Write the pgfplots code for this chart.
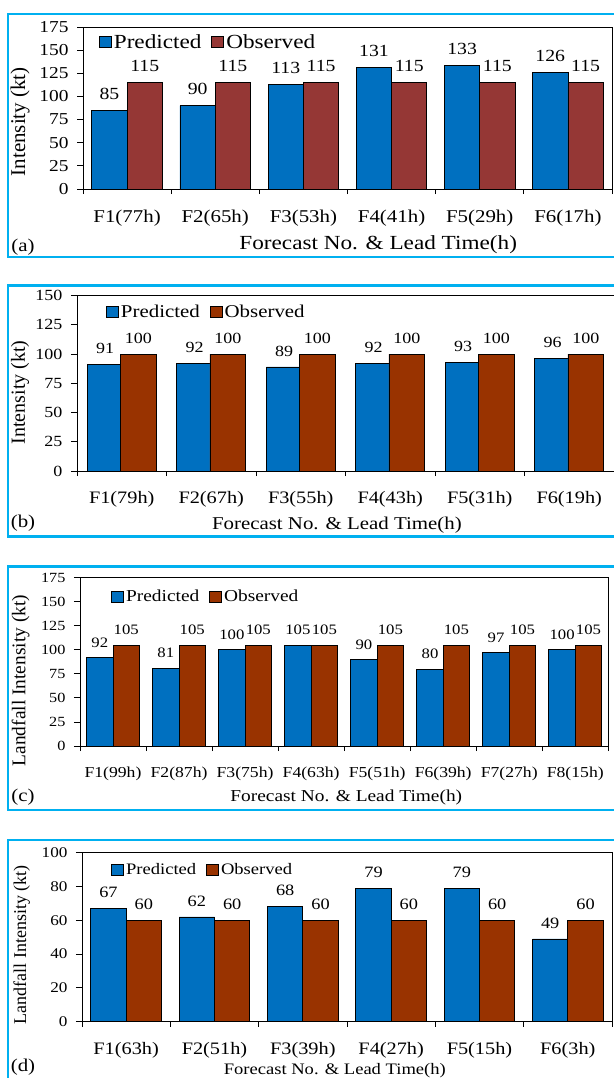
\documentclass[border=0pt]{standalone}
\usepackage{fontspec}
\setmainfont{Liberation Serif}[FakeStretch=1.16]
\newfontfamily\ylf{Liberation Serif}
\usepackage{pgfplots}
\pgfplotsset{compat=1.18}
\definecolor{pblue}{RGB}{0,112,192}
\definecolor{ored}{RGB}{149,55,53}
\definecolor{obrown}{RGB}{153,51,0}
\definecolor{frameblue}{RGB}{0,176,240}
\newcommand\fs[1]{\fontsize{#1}{#1}\selectfont}
\pgfplotsset{
  /pgf/number format/assume math mode=true,
  sqlegend/.style={legend image code/.code={\draw[##1,draw=black,line width=0.8pt] (0pt,-5.5pt) rectangle (12pt,5.5pt);}},
  panel/.style={
    scale only axis,
    anchor=south west,
    axis line style={black, line width=0.9pt},
    ymin=0, xmin=-0.5,
    tick align=outside,
    tick pos=left,
    major tick length=6pt,
    minor tick length=5pt,
    tick style={black, line width=0.9pt},
    major x tick style={draw=none},
    legend columns=2,
    legend style={draw=none, fill=none, inner sep=0pt, anchor=west,
      nodes={inner xsep=2pt},
      /tikz/every even column/.append style={column sep=8pt}},
    yticklabel style={xshift=-5pt},
    xticklabel style={yshift=-11pt},
  },
  pred/.style={ybar, bar width=0.4, bar shift=0, fill=pblue, draw=black, line width=0.8pt, sqlegend,
    nodes near coords, every node near coord/.append style={text=black, font=\fs{#1}}},
  obs/.style 2 args={ybar, bar width=0.4, bar shift=0, fill=#1, draw=black, line width=0.8pt, sqlegend,
    nodes near coords, every node near coord/.append style={text=black, font=\fs{#2}}},
}
\begin{document}
\begin{tikzpicture}
% frames
\draw[frameblue, line width=2.5pt] (8pt,-14pt) rectangle (625pt,-257pt);
\draw[frameblue, line width=2.5pt] (8pt,-285.7pt) rectangle (625pt,-536.7pt);
\draw[frameblue, line width=2.5pt] (8pt,-566.7pt) rectangle (625pt,-810pt);
\draw[frameblue, line width=2.5pt] (8pt,-840pt) rectangle (625pt,-1090pt);

% (a)
\begin{axis}[panel,
  at={(83pt,-189pt)}, width=529pt, height=162pt,
  xmax=5.5, ymax=175, ytick={0,25,...,175},
  xtick={0,...,5}, minor xtick={-0.5,0.5,...,5.5},
  xticklabels={F1(77h),F2(65h),F3(53h),F4(41h),F5(29h),F6(17h)},
  xticklabel style={font=\fs{18}}, yticklabel style={font=\fs{16.7}},
  xlabel={Forecast No. \& Lead Time(h)}, ylabel={Intensity (kt)},
  xlabel style={at={(axis description cs:0.558,-0.3457)}, anchor=center, font=\fs{20}},
  ylabel style={at={(axis description cs:-0.1191,0.415)}, anchor=center, font=\ylf\fs{21}},
  legend style={at={(0.030,0.907)}, font=\fs{20}},
  every node near coord/.append style={yshift=7pt},
]
\addplot[pred=17] coordinates {(-0.2,85) (0.8,90) (1.8,113) (2.8,131) (3.8,133) (4.8,126)};
\addplot[obs={ored}{17}] coordinates {(0.2,115) (1.2,115) (2.2,115) (3.2,115) (4.2,115) (5.2,115)};
\legend{Predicted,Observed}
\end{axis}

% (b)
\begin{axis}[panel,
  at={(77pt,-471pt)}, width=537pt, height=175.3pt,
  xmax=5.5, ymax=150, ytick={0,25,...,150},
  xtick={0,...,5}, minor xtick={-0.5,0.5,...,5.5},
  xticklabels={F1(79h),F2(67h),F3(55h),F4(43h),F5(31h),F6(19h)},
  xticklabel style={font=\fs{17.5}}, yticklabel style={font=\fs{15.5}},
  xlabel={Forecast No. \& Lead Time(h)}, ylabel={Intensity (kt)},
  xlabel style={at={(axis description cs:0.484,-0.308)}, anchor=center, font=\fs{18}},
  ylabel style={at={(axis description cs:-0.1061,0.448)}, anchor=center, font=\ylf\fs{20}},
  legend style={at={(0.054,0.909)}, font=\fs{18}},
  every node near coord/.append style={yshift=7pt},
]
\addplot[pred=15.5] coordinates {(-0.185,91) (0.815,92) (1.815,89) (2.815,92) (3.815,93) (4.815,96)};
\addplot[obs={obrown}{15.5}] coordinates {(0.185,100) (1.185,100) (2.185,100) (3.185,100) (4.185,100) (5.185,100)};
\legend{Predicted,Observed}
\end{axis}

% (c)
\begin{axis}[panel,
  at={(80pt,-746pt)}, width=528.3pt, height=168.3pt,
  xmax=7.5, ymax=175, ytick={0,25,...,175},
  xtick={0,...,7}, minor xtick={-0.5,0.5,...,7.5},
  xticklabels={F1(99h),F2(87h),F3(75h),F4(63h),F5(51h),F6(39h),F7(27h),F8(15h)},
  xticklabel style={font=\fs{15.2}}, yticklabel style={font=\fs{14}},
  xlabel={Forecast No. \& Lead Time(h)}, ylabel={Landfall Intensity (kt)},
  xlabel style={at={(axis description cs:0.504,-0.303)}, anchor=center, font=\fs{16.7}},
  ylabel style={at={(axis description cs:-0.1123,0.389)}, anchor=center, font=\ylf\fs{19.4}},
  legend style={at={(0.059,0.887)}, font=\fs{16.7}},
  every node near coord/.append style={yshift=6.3pt},
]
\addplot[pred=14.4] coordinates {(-0.2,92) (0.8,81) (1.8,100) (2.8,105) (3.8,90) (4.8,80) (5.8,97) (6.8,100)};
\addplot[obs={obrown}{14.4}] coordinates {(0.2,105) (1.2,105) (2.2,105) (3.2,105) (4.2,105) (5.2,105) (6.2,105) (7.2,105)};
\legend{Predicted,Observed}
\end{axis}

% (d)
\begin{axis}[panel,
  at={(82pt,-1021.7pt)}, width=530pt, height=169pt,
  xmax=5.5, ymax=100, ytick={0,20,...,100},
  xtick={0,...,5}, minor xtick={-0.5,0.5,...,5.5},
  xticklabels={F1(63h),F2(51h),F3(39h),F4(27h),F5(15h),F6(3h)},
  xticklabel style={font=\fs{17.5}}, yticklabel style={font=\fs{14.8}},
  xlabel={Forecast No. \& Lead Time(h)}, ylabel={Landfall Intensity (kt)},
  xlabel style={at={(axis description cs:0.477,-0.292)}, anchor=center, font=\fs{16}},
  ylabel style={at={(axis description cs:-0.1138,0.454)}, anchor=center, font=\ylf\fs{18}},
  legend style={at={(0.055,0.898)}, font=\fs{16}},
  every node near coord/.append style={yshift=7pt},
]
\addplot[pred=15.8] coordinates {(-0.2,67) (0.8,62) (1.8,68) (2.8,79) (3.8,79) (4.8,49)};
\addplot[obs={obrown}{15.8}] coordinates {(0.2,60) (1.2,60) (2.2,60) (3.2,60) (4.2,60) (5.2,60)};
\legend{Predicted,Observed}
\end{axis}

\node[font=\fs{18}] at (23pt,-247pt) {(a)};
\node[font=\fs{18}] at (23pt,-523pt) {(b)};
\node[font=\fs{18}] at (23pt,-796.7pt) {(c)};
\node[font=\fs{18}] at (23pt,-1066.7pt) {(d)};

\pgfresetboundingbox
\path[use as bounding box] (0pt,0pt) rectangle (613pt,-1078pt);
\end{tikzpicture}
\end{document}
